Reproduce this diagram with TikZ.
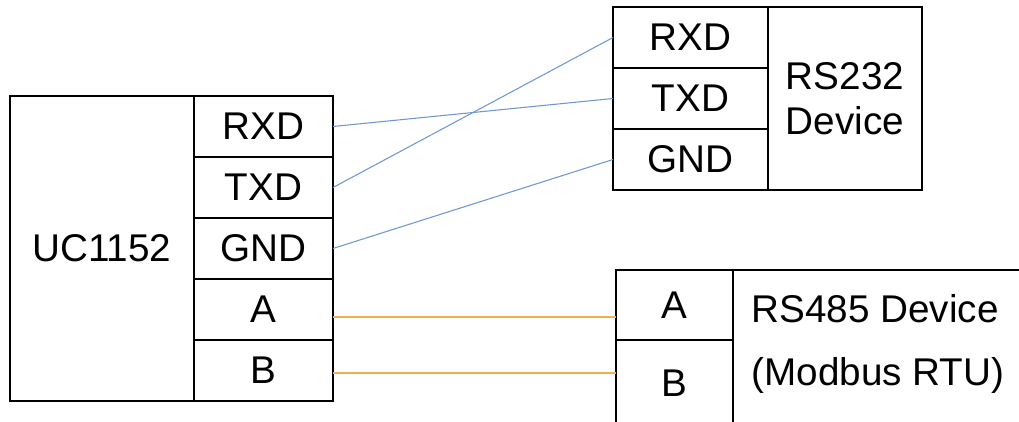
\documentclass[tikz,border=0pt]{standalone}
\usepackage{fontspec}
\setmainfont{Liberation Sans}
\usetikzlibrary{positioning}

\definecolor{wireblue}{RGB}{112,150,212}
\definecolor{wireorange}{RGB}{240,174,78}

\tikzset{every picture/.style={line width=0.75pt}}
\tikzset{
  cellbox/.style={draw, line width=1pt, inner sep=0pt, outer sep=0pt, font=\fontsize{29}{34}\selectfont},
  rstwowire/.style={draw=wireblue, line width=0.8pt},
  rsfourwire/.style={draw=wireorange, line width=1.6pt}
}

\begin{document}
\begin{tikzpicture}[x=0.75pt,y=0.75pt,yscale=-1,xscale=1]
\useasboundingbox (0,0) rectangle (1019,421);
\clip (0,0) rectangle (1019,421);

%UC1152 box
\node [cellbox, minimum width=138pt, minimum height=228.75pt] (uc) at (102,248.5) {UC1152};
%UC1152 pins
\node [cellbox, minimum width=104.25pt, minimum height=45.75pt] (ucRXD) at (263.5,126.5) {RXD};
\node [cellbox, minimum width=104.25pt, minimum height=45.75pt] (ucTXD) at (263.5,187.5) {TXD};
\node [cellbox, minimum width=104.25pt, minimum height=45.75pt] (ucGND) at (263.5,248.5) {GND};
\node [cellbox, minimum width=104.25pt, minimum height=45.75pt] (ucA) at (263.5,309.5) {A};
\node [cellbox, minimum width=104.25pt, minimum height=45.75pt] (ucB) at (263.5,370.5) {B};

%RS232 device
\node [cellbox, minimum width=116.25pt, minimum height=45.75pt] (rsRXD) at (690.5,37.5) {RXD};
\node [cellbox, minimum width=116.25pt, minimum height=45.75pt] (rsTXD) at (690.5,98.5) {TXD};
\node [cellbox, minimum width=116.25pt, minimum height=45.75pt] (rsGND) at (690.5,159.5) {GND};
\node [cellbox, minimum width=115.5pt, minimum height=137.25pt, align=center] (rstwo) at (845,98.5) {RS232\\Device};

%RS485 device
\node [cellbox, minimum width=87.75pt, minimum height=52.5pt] (rsA) at (674.5,305) {A};
\node [cellbox, minimum width=87.75pt, minimum height=64.5pt] (rsB) at (674.5,383) {B};
\node [cellbox, minimum width=225pt, minimum height=117pt] (rsfour) at (883,348) {};
% Text Node
\node [anchor=west, inner sep=0pt, align=left, font=\fontsize{29}{47}\selectfont] (rsfourtext) at (751,344) {RS485 Device\\(Modbus RTU)};

%RS232 wires
\draw [rstwowire] (ucRXD.east) -- (rsTXD.west);
\draw [rstwowire] (ucTXD.east) -- (rsRXD.west);
\draw [rstwowire] (ucGND.east) -- (rsGND.west);
%RS485 wires
\draw [rsfourwire] ([yshift=5.6pt]ucA.east) -- ([yshift=5.6pt]ucA.east -| rsA.west);
\draw [rsfourwire] ([yshift=1.9pt]ucB.east) -- ([yshift=1.9pt]ucB.east -| rsB.west);

\end{tikzpicture}
\end{document}
